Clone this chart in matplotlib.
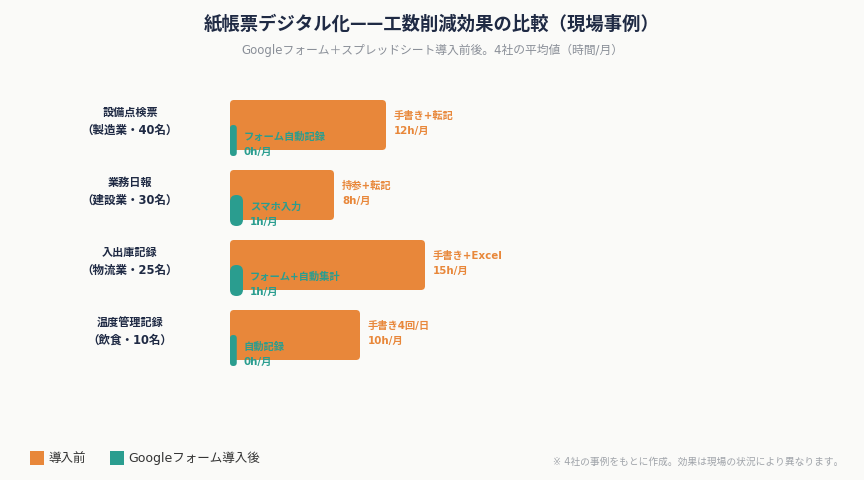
import matplotlib
matplotlib.use('Agg')
import matplotlib.pyplot as plt
from matplotlib.patches import FancyBboxPatch, Rectangle

plt.rcParams['font.family'] = ['Noto Sans CJK JP', 'DejaVu Sans']
mixed = ['DejaVu Sans', 'Noto Sans CJK JP']

# data
categories = ['設備点検票', '業務日報', '入出庫記録', '温度管理記録']
subtitles = ['（製造業・40名）', '（建設業・30名）', '（物流業・25名）', '（飲食・10名）']
before = [12, 8, 15, 10]          # 時間/月
after = [0, 1, 1, 0]
before_methods = ['手書き+転記', '持参+転記', '手書き+Excel', '手書き4回/日']
after_methods = ['フォーム自動記録', 'スマホ入力', 'フォーム+自動集計', '自動記録']
legend_labels = ['導入前', 'Googleフォーム導入後']

orange = '#e8873a'
teal = '#2a9d8f'
navy = '#1f2a44'
bg = '#fafaf8'

fig = plt.figure(figsize=(8.64, 4.8), dpi=100, facecolor=bg)
ax = fig.add_axes([230 / 864, 110 / 480, 520 / 864, 280 / 480])
ax.set_facecolor(bg)
ax.set_xlim(0, 40)
ax.set_ylim(3.5, -0.5)
ax.axis('off')

px_x = 13.0   # pixels per hour
px_y = 70.0   # pixels per group
aspect = px_x / px_y

for i, (b, a) in enumerate(zip(before, after)):
    # before bar
    h = 50 / px_y
    ax.add_patch(FancyBboxPatch((0, i - h / 2), b, h,
                                boxstyle='round,pad=0,rounding_size=%f' % (4 / px_x),
                                mutation_aspect=aspect, fc=orange, ec='none', zorder=2))
    # after bar (min width so 0 stays visible)
    w = max(a, 0.52)
    th = 31 / px_y
    r = min(w * px_x, 31) / 2 * 0.98 / px_x
    ax.add_patch(FancyBboxPatch((0, i), w, th,
                                boxstyle='round,pad=0,rounding_size=%f' % r,
                                mutation_aspect=aspect, fc=teal, ec='none', zorder=3))

    ax.text(b + 8 / px_x, i - 9.5 / px_y, before_methods[i], color=orange, family=mixed,
            fontsize=7.4, fontweight='bold', va='center', ha='left', clip_on=False)
    ax.text(b + 8 / px_x, i + 5.5 / px_y, '%dh/月' % b, color=orange, family=mixed,
            fontsize=7.4, fontweight='bold', va='center', ha='left', clip_on=False)
    ax.text(w + 7 / px_x, i + 11.5 / px_y, after_methods[i], color=teal, family=mixed,
            fontsize=7.4, fontweight='bold', va='center', ha='left', zorder=4, clip_on=False)
    ax.text(w + 7 / px_x, i + 26.5 / px_y, '%dh/月' % a, color=teal, family=mixed,
            fontsize=7.4, fontweight='bold', va='center', ha='left', zorder=4, clip_on=False)

    ax.text(-100 / px_x, i - 13 / px_y, categories[i], color=navy, fontsize=8,
            fontweight='bold', ha='center', va='center', clip_on=False)
    ax.text(-100 / px_x, i + 5 / px_y, subtitles[i], color=navy, fontsize=8.3, family=mixed,
            fontweight='bold', ha='center', va='center', clip_on=False)

fig.text(0.5, 1 - 24 / 480, '紙帳票デジタル化——工数削減効果の比較（現場事例）',
         ha='center', va='center', fontsize=13.2, fontweight='bold', color=navy)
fig.text(0.5, 1 - 50 / 480, 'Googleフォーム＋スプレッドシート導入前後。4社の平均値（時間/月）',
         ha='center', va='center', fontsize=8.5, color='#8a8f98', family=mixed)

# legend
for x0, col, lab in zip([30, 110], [orange, teal], legend_labels):
    fig.patches.append(Rectangle((x0 / 864, 1 - 465 / 480), 14 / 864, 14 / 480,
                                 transform=fig.transFigure, fc=col, ec='none'))
    fig.text((x0 + 18) / 864, 1 - 458 / 480, lab, ha='left', va='center',
             fontsize=9, color='#333333', family=mixed)

fig.text(843 / 864, 1 - 462 / 480, '※ 4社の事例をもとに作成。効果は現場の状況により異なります。',
         ha='right', va='center', fontsize=7, color='#a0a4aa', family=mixed)

fig.savefig('out.png', dpi=100, facecolor=bg)
